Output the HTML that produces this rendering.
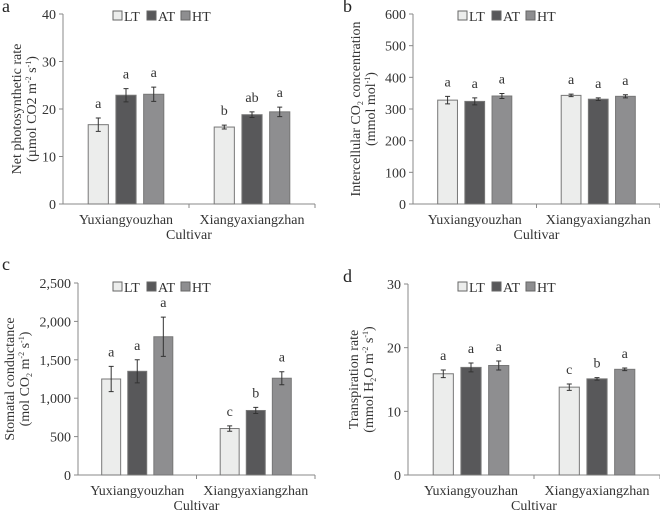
<!DOCTYPE html>
<html><head><meta charset="utf-8"><style>
body{margin:0;background:#fff}
svg{font-family:"Liberation Serif",serif;display:block}
</style></head><body>
<svg id="c" width="660" height="512"></svg>
<script>
const cultivars=["Yuxiangyouzhan","Xiangyaxiangzhan"];
const treatments=["LT","AT","HT"];
const aValues=[[16.7,16.2],[22.9,18.8],[23.1,19.4]];
const aErrors=[[1.4,0.4],[1.4,0.6],[1.5,1.0]];
const aLetters=[["a","b"],["a","ab"],["a","a"]];
const aTicks=[0,10,20,30,40];
const bValues=[[328,343],[324,331],[341,340]];
const bErrors=[[12,4],[11,4],[8,5]];
const bLetters=[["a","a"],["a","a"],["a","a"]];
const bTicks=[0,100,200,300,400,500,600];
const cValues=[[1250,605],[1350,840],[1800,1260]];
const cErrors=[[165,35],[150,40],[255,85]];
const cLetters=[["a","c"],["a","b"],["a","a"]];
const cTicks=[0,500,1000,1500,2000,2500];
const cTickLabels=["0","500","1,000","1,500","2,000","2,500"];
const dValues=[[15.9,13.8],[16.9,15.1],[17.2,16.6]];
const dErrors=[[0.6,0.5],[0.7,0.2],[0.7,0.2]];
const dLetters=[["a","c"],["a","b"],["a","a"]];
const dTicks=[0,10,20,30];
const colors=["#ecedec","#58585a","#8e8e90"];
const svg=document.getElementById('c');
const NS="http://www.w3.org/2000/svg";
function el(t,a,p){const e=document.createElementNS(NS,t);for(const k in a)e.setAttribute(k,a[k]);(p||svg).appendChild(e);return e;}
function txt(s,a,p){const e=el('text',a,p);e.innerHTML=s;return e;}
function panel(o){
 const g=el('g',{});
 
 
 const max=o.ticks[o.ticks.length-1];
 const y=v=>o.y0-(v/max)*(o.y0-o.yTop);
 const half=(o.xEnd-o.x0)/2;
 const ax=el('path',{d:`M${o.x0} ${o.yTop}V${o.y0}H${o.xEnd}M${o.x0+half} ${o.y0}v4M${o.xEnd} ${o.y0}v4`,stroke:'#888',fill:'none','stroke-width':1},g);
 
 o.ticks.forEach((t,i)=>{
  el('line',{x1:o.x0-4,x2:o.x0,y1:y(t),y2:y(t),stroke:'#888'},g);
  const l=txt(o.tickLabels?o.tickLabels[i]:String(t),{x:o.x0-7,y:y(t)+5,'text-anchor':'end','font-size':14,fill:'#333'},g);
  
 });
 const pitch=half*0.22,bw=half*0.16;
 cultivars.forEach((c,ci)=>{
  const gc=o.x0+half*(ci+0.5);
  treatments.forEach((t,ti)=>{
   const v=o.values[ti][ci],e=o.errors[ti][ci];
   const cx=gc+(ti-1)*pitch;
   const r=el('rect',{x:cx-bw/2,y:y(v),width:bw,height:o.y0-y(v),fill:colors[ti],stroke:'#777','stroke-width':1},g);
   
   const eb=el('path',{d:`M${cx} ${y(v+e)}V${y(v-e)}M${cx-2.5} ${y(v+e)}h5M${cx-2.5} ${y(v-e)}h5`,stroke:'#333','stroke-width':1},g);
   
   const lt=txt(o.letters[ti][ci],{x:cx,y:y(v+e)-10,'text-anchor':'middle','font-size':14,fill:'#333'},g);
   
  });
  const xl=txt(c,{x:gc,y:o.y0+20,'text-anchor':'middle','font-size':14,fill:'#333'},g);
  
 });
 const xt=txt('Cultivar',{x:o.x0+half,y:o.y0+35,'text-anchor':'middle','font-size':14,fill:'#333'},g);
 
 const ym=(o.yTop+o.y0)/2;
 const yt=el('g',{transform:`translate(${o.tx},${ym}) rotate(-90)`},g);
 
 txt(o.t1,{x:0,y:0,'text-anchor':'middle','font-size':14,fill:'#333'},yt);
 txt(o.t2,{x:0,y:15,'text-anchor':'middle','font-size':14,fill:'#333'},yt);
 const pl=txt(o.id,{x:o.px,y:o.py,'font-size':18,fill:'#222'},g);
 
 const lg=el('g',{},g);
 
 treatments.forEach((t,ti)=>{
  const lx=o.lx+ti*34;
  const le=el('g',{},lg);
  
  el('rect',{x:lx,y:o.ly-10,width:9,height:9,fill:colors[ti],stroke:'#666'},le);
  txt(t,{x:lx+11,y:o.ly,'font-size':14,fill:'#333'},le);
 });
}
panel({id:'a',x0:63,xEnd:315,yTop:14,y0:204,ticks:aTicks,values:aValues,errors:aErrors,letters:aLetters,tx:21,t1:'Net photosynthetic rate',t2:'(µmol CO2 m<tspan font-size="8" dy="-5">-2</tspan><tspan dy="5"> s</tspan><tspan font-size="8" dy="-5">-1</tspan><tspan dy="5">)</tspan>',px:2,py:12,lx:113,ly:21});
panel({id:'b',x0:413,xEnd:660,yTop:14,y0:204,ticks:bTicks,values:bValues,errors:bErrors,letters:bLetters,tx:360,t1:'Intercellular CO<tspan font-size="8" dy="3">2</tspan><tspan dy="-3"> concentration</tspan>',t2:'(mmol mol<tspan font-size="8" dy="-5">-1</tspan><tspan dy="5">)</tspan>',px:343,py:12,lx:458,ly:21});
panel({id:'c',x0:78,xEnd:315,yTop:283,y0:475,ticks:cTicks,tickLabels:cTickLabels,values:cValues,errors:cErrors,letters:cLetters,tx:14,t1:'Stomatal conductance',t2:'(mol CO<tspan font-size="8" dy="3">2</tspan><tspan dy="-3"> m</tspan><tspan font-size="8" dy="-5">-2</tspan><tspan dy="5"> s</tspan><tspan font-size="8" dy="-5">-1</tspan><tspan dy="5">)</tspan>',px:2,py:270,lx:113,ly:292});
panel({id:'d',x0:408,xEnd:660,yTop:284,y0:475,ticks:dTicks,values:dValues,errors:dErrors,letters:dLetters,tx:358,t1:'Transpiration rate',t2:'(mmol H<tspan font-size="8" dy="3">2</tspan><tspan dy="-3">O m</tspan><tspan font-size="8" dy="-5">-2</tspan><tspan dy="5"> s</tspan><tspan font-size="8" dy="-5">-1</tspan><tspan dy="5">)</tspan>',px:343,py:282,lx:458,ly:292});
</script>
</body></html>
